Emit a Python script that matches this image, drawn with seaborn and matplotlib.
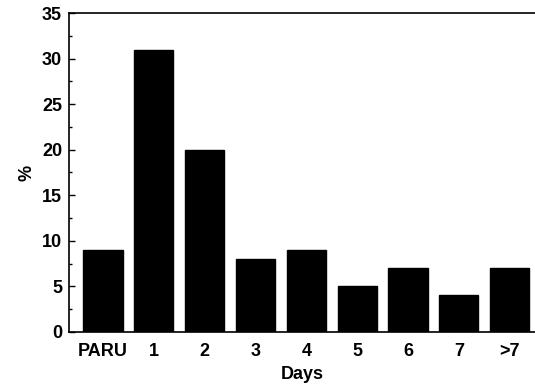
import matplotlib
matplotlib.use('Agg')
import matplotlib.pyplot as plt
import seaborn as sns
import pandas as pd
from matplotlib.ticker import MultipleLocator

days = ['PARU', '1', '2', '3', '4', '5', '6', '7', '>7']
percent = [9, 31, 20, 8, 9, 5, 7, 4, 7]

sns.set_style('ticks')
plt.rcParams['font.family'] = ['Liberation Sans', 'DejaVu Sans']
plt.rcParams['text.color'] = 'black'
plt.rcParams['axes.labelcolor'] = 'black'
plt.rcParams['xtick.color'] = 'black'
plt.rcParams['ytick.color'] = 'black'

df = pd.DataFrame({'Days': days, 'pct': percent})

fig = plt.figure(figsize=(5.35, 3.85), dpi=100)
ax = fig.add_axes([0.129, 0.138, 0.871, 0.828])
sns.barplot(data=df, x='Days', y='pct', color='black', width=0.77,
            edgecolor='black', saturation=1, ax=ax)

ax.set_xlim(-0.67, 8.5)
ax.set_ylim(0, 35)
ax.yaxis.set_major_locator(MultipleLocator(5))
ax.yaxis.set_minor_locator(MultipleLocator(2.5))
ax.tick_params(axis='y', which='both', direction='in', labelsize=13, length=4, width=1, pad=5)
ax.tick_params(axis='y', which='minor', length=2)
ax.tick_params(axis='x', length=0, labelsize=13, pad=8)
for lab in ax.get_xticklabels() + ax.get_yticklabels():
    lab.set_fontweight('bold')

ax.spines['right'].set_visible(False)
for s in ['left', 'top', 'bottom']:
    ax.spines[s].set_color('black')
    ax.spines[s].set_linewidth(1.2)

ax.set_xlabel('Days', fontsize=13, fontweight='bold', labelpad=4)
ax.set_ylabel('%', fontsize=13, fontweight='bold', labelpad=5)

fig.savefig('out.png', dpi=100)
